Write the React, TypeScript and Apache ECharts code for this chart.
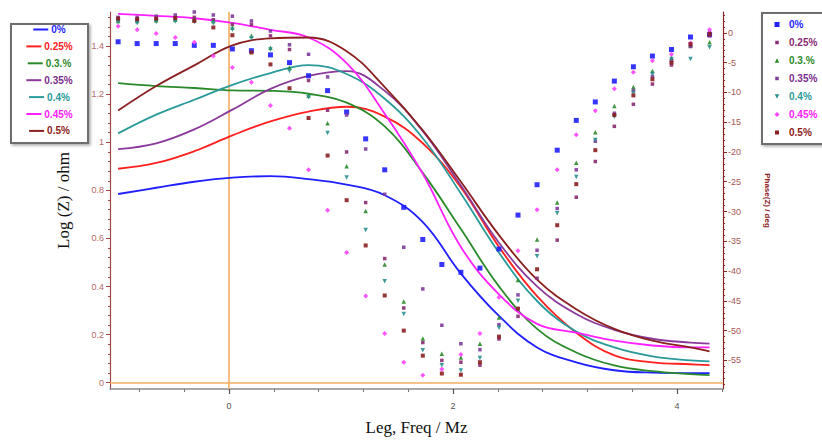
import { useEffect, useRef } from 'react';
import * as echarts from 'echarts';

// Series labels (same order for impedance curves and phase points)
const seriesNames = ['0%', '0.25%', '0.3.%', '0.35%', '0.4%', '0.45%', '0.5%'];
const lineColors = ['#1f1fff', '#ff2020', '#2a8a2a', '#8a3a9a', '#2a9a9a', '#ff20ff', '#8b2020'];
const markerColors = ['#1f1fff', '#8a2a72', '#2a8a2a', '#7f3a9a', '#2a8f8f', '#ff40ff', '#8b1f1f'];
const legendTextColors = ['#1f1fff', '#ff2020', '#2a8a2a', '#7b2d8b', '#2a9a9a', '#ff20ff', '#8b2020'];
const rightLegendTextColors = ['#1f1fff', '#8a2a72', '#2a8a2a', '#7b2d8b', '#2a9a9a', '#ff20ff', '#8b2020'];
const triDown = 'path://M0,0 L10,0 L5,9 Z';
const markerSymbols = ['rect', 'rect', 'triangle', 'rect', triDown, 'diamond', 'rect'];
const markerSizes = [5, 3.5, 4.5, 3.5, 4.5, 5, 4];

// Fitted impedance curves: log10 frequency vs log |Z|
const logFreqFit = [-0.99, -0.65, -0.31, 0.03, 0.37, 0.71, 1.05, 1.39, 1.73, 2.07, 2.41, 2.75, 3.10, 3.44, 3.78, 4.12, 4.29];
const logZ_0 = [0.785, 0.811, 0.836, 0.853, 0.859, 0.847, 0.824, 0.780, 0.668, 0.454, 0.278, 0.147, 0.085, 0.052, 0.042, 0.040, 0.040];
const logZ_025 = [0.890, 0.914, 0.963, 1.029, 1.087, 1.128, 1.148, 1.107, 0.996, 0.812, 0.565, 0.360, 0.208, 0.114, 0.085, 0.077, 0.073];
const logZ_03 = [1.246, 1.234, 1.226, 1.216, 1.214, 1.202, 1.165, 1.066, 0.873, 0.639, 0.401, 0.224, 0.126, 0.072, 0.048, 0.036, 0.032];
const logZ_035 = [0.972, 0.996, 1.054, 1.136, 1.222, 1.276, 1.296, 1.214, 1.046, 0.820, 0.582, 0.401, 0.286, 0.220, 0.183, 0.167, 0.163];
const logZ_04 = [1.037, 1.115, 1.177, 1.239, 1.288, 1.321, 1.284, 1.181, 1.017, 0.787, 0.541, 0.340, 0.213, 0.147, 0.110, 0.093, 0.089];
const logZ_045 = [1.534, 1.526, 1.516, 1.497, 1.468, 1.436, 1.329, 1.119, 0.869, 0.565, 0.368, 0.245, 0.208, 0.175, 0.155, 0.147, 0.147];
const logZ_05 = [1.132, 1.234, 1.320, 1.403, 1.432, 1.436, 1.379, 1.230, 1.050, 0.836, 0.614, 0.429, 0.306, 0.224, 0.175, 0.147, 0.130];

// Measured phase angle (deg) at each frequency point
const logFreqPhase = [-0.99, -0.82, -0.65, -0.48, -0.31, -0.14, 0.03, 0.20, 0.37, 0.54, 0.71, 0.88, 1.05, 1.22, 1.39, 1.56,
  1.73, 1.90, 2.07, 2.24, 2.41, 2.58, 2.75, 2.93, 3.10, 3.27, 3.44, 3.61, 3.78, 3.95, 4.12, 4.29];
const phase_0 = [-1.5, -1.8, -1.8, -1.8, -2.1, -2.1, -2.7, -3.0, -3.7, -5.0, -7.2, -9.7, -13.3, -17.8, -23.0, -29.3,
  -34.7, -38.9, -40.2, -39.5, -36.3, -30.6, -25.5, -19.7, -14.7, -11.6, -8.1, -5.7, -3.9, -2.8, -0.7, -0.3];
const phase_025 = [2.2, 2.1, 2.2, 2.3, 2.6, 2.2, 1.4, 1.4, -0.5, -2.8, -8.0, -13.0, -20.0, -28.5, -37.9, -46.2,
  -52.0, -55.0, -55.3, -55.8, -51.4, -47.6, -41.2, -34.8, -27.6, -21.6, -15.7, -12.0, -8.6, -5.4, -2.3, -0.5];
const phase_03 = [2.0, 2.0, 2.1, 2.2, 2.2, 2.0, 0.9, -0.5, -2.5, -5.8, -10.5, -15.2, -22.4, -29.9, -38.9, -45.1,
  -51.3, -53.9, -54.5, -52.2, -47.8, -41.5, -34.7, -28.5, -21.8, -16.7, -12.3, -9.1, -6.4, -4.2, -2.1, -1.6];
const phase_035 = [2.6, 2.6, 2.8, 3.0, 3.5, 3.0, 2.8, 2.0, 0.3, -2.0, -3.6, -7.4, -13.8, -19.5, -27.1, -36.0,
  -43.0, -49.1, -52.2, -53.2, -49.0, -44.0, -36.5, -29.5, -23.0, -18.2, -13.5, -9.7, -7.3, -4.7, -2.2, 0.0];
const phase_04 = [1.8, 1.6, 1.8, 1.9, 1.8, 1.6, 0.5, -0.9, -2.8, -6.4, -10.8, -16.8, -24.3, -33.1, -41.7, -47.2,
  -53.3, -55.8, -56.7, -54.6, -49.5, -45.0, -37.5, -30.3, -24.2, -18.0, -14.1, -10.1, -6.9, -4.4, -4.4, -2.4];
const phase_045 = [1.1, 0.5, -0.1, -0.8, -1.6, -3.9, -5.8, -8.3, -12.2, -16.0, -23.0, -29.8, -36.9, -44.2, -50.5, -55.3,
  -57.5, -56.5, -54.0, -50.5, -44.4, -36.6, -29.7, -23.0, -17.1, -13.1, -9.4, -6.6, -4.7, -3.6, -1.7, 0.5];
const phase_05 = [2.4, 2.3, 2.4, 2.5, 2.0, 0.9, -0.4, -3.3, -5.3, -9.3, -14.3, -20.6, -28.1, -35.7, -44.1, -50.0,
  -54.2, -57.2, -57.4, -55.3, -51.0, -46.3, -39.7, -32.3, -25.4, -19.7, -13.8, -10.5, -7.8, -5.0, -1.9, -0.2];

const logZSets = [logZ_0, logZ_025, logZ_03, logZ_035, logZ_04, logZ_045, logZ_05];
const phaseSets = [phase_0, phase_025, phase_03, phase_035, phase_04, phase_045, phase_05];

// Axis ticks and labels
const xLabelTicks = [0, 2, 4];
const xMinorTicks = [-0.8, -0.4, 0, 0.4, 0.8, 1.2, 1.6, 2, 2.4, 2.8, 3.2, 3.6, 4, 4.4];
const logZLabelTicks = [0, 0.2, 0.4, 0.6, 0.8, 1, 1.2, 1.4];
const phaseLabelTicks = [0, -5, -10, -15, -20, -25, -30, -35, -40, -45, -50, -55];

const X_MIN = -1.0625;
const X_MAX = 4.41;
const LZ_MIN = -0.026;
const LZ_MAX = 1.542;
const PH_MIN = -59.8;
const PH_MAX = 3.5;

const LEGEND_FONT = 'bold 10px "Liberation Sans", Arial, sans-serif';

function measure(text: string, font: string): number {
  const ctx = document.createElement('canvas').getContext('2d');
  if (!ctx) return text.length * 5.5;
  ctx.font = font;
  return ctx.measureText(text).width;
}

function buildLeftLegend() {
  const children: any[] = [
    {
      type: 'rect',
      shape: { x: 11, y: 24, width: 77, height: 119 },
      style: { fill: '#fff', stroke: '#6e6e6e', lineWidth: 2, shadowBlur: 3, shadowOffsetX: 1.5, shadowOffsetY: 1.5, shadowColor: 'rgba(0,0,0,0.35)' },
    },
  ];
  seriesNames.forEach((name, i) => {
    const cy = 29.5 + i * 16.9;
    const tw = measure(name, LEGEND_FONT);
    const total = 15 + 3 + tw;
    const x0 = 49.5 - total / 2;
    children.push({
      type: 'line',
      shape: { x1: x0, y1: cy, x2: x0 + 15, y2: cy },
      style: { stroke: lineColors[i], lineWidth: 2 },
    });
    children.push({
      type: 'text',
      style: { text: name, x: x0 + 18, y: cy, fill: legendTextColors[i], font: LEGEND_FONT, align: 'left', verticalAlign: 'middle' },
    });
  });
  return { type: 'group', children };
}

function buildRightLegend() {
  const children: any[] = [
    {
      type: 'rect',
      shape: { x: 762, y: 13, width: 90, height: 131 },
      style: { fill: '#fff', stroke: '#6e6e6e', lineWidth: 2, shadowBlur: 3, shadowOffsetX: 1.5, shadowOffsetY: 1.5, shadowColor: 'rgba(0,0,0,0.35)' },
    },
  ];
  seriesNames.forEach((name, i) => {
    const cy = 24.5 + i * 18.0;
    const cx = 777;
    const s = markerSizes[i];
    const c = markerColors[i];
    if (markerSymbols[i] === 'triangle') {
      children.push({ type: 'polygon', shape: { points: [[cx, cy - s / 2], [cx + s / 2, cy + s / 2], [cx - s / 2, cy + s / 2]] }, style: { fill: c } });
    } else if (markerSymbols[i] === triDown) {
      children.push({ type: 'polygon', shape: { points: [[cx - s / 2, cy - s / 2], [cx + s / 2, cy - s / 2], [cx, cy + s / 2]] }, style: { fill: c } });
    } else if (markerSymbols[i] === 'diamond') {
      children.push({ type: 'polygon', shape: { points: [[cx, cy - s / 2], [cx + s / 2, cy], [cx, cy + s / 2], [cx - s / 2, cy]] }, style: { fill: c } });
    } else {
      children.push({ type: 'rect', shape: { x: cx - s / 2, y: cy - s / 2, width: s, height: s }, style: { fill: c } });
    }
    children.push({
      type: 'text',
      style: { text: name, x: 789, y: cy, fill: rightLegendTextColors[i], font: LEGEND_FONT, align: 'left', verticalAlign: 'middle' },
    });
  });
  return { type: 'group', children };
}

function minorTicks(from: number, to: number, step: number): number[] {
  const out: number[] = [];
  const n = Math.round((to - from) / step);
  for (let k = 0; k <= n; k++) out.push(Math.round((from + k * step) * 1000) / 1000);
  return out;
}

export default function App() {
  const ref = useRef<HTMLDivElement>(null);

  useEffect(() => {
    if (!ref.current) return;
    const chart = echarts.init(ref.current, undefined, { renderer: 'svg' });

    const lineSeries = seriesNames.map((name, i) => ({
      name,
      type: 'line',
      xAxisIndex: 0,
      yAxisIndex: 0,
      data: logFreqFit.map((x, j) => [x, logZSets[i][j]]),
      smooth: 0.4,
      symbol: 'none',
      lineStyle: { color: lineColors[i], width: 1.8 },
      z: 3,
      ...(i === 0
        ? {
            markLine: {
              silent: true,
              symbol: 'none',
              label: { show: false },
              lineStyle: { color: '#f6ad5c', width: 1.6, type: 'solid' },
              data: [{ xAxis: 0 }, { yAxis: 0 }],
              z: 1,
            },
          }
        : {}),
    }));

    const scatterSeries = seriesNames.map((name, i) => ({
      name: 'phase ' + name,
      type: 'scatter',
      xAxisIndex: 0,
      yAxisIndex: 1,
      data: logFreqPhase.map((x, j) => [x, phaseSets[i][j]]),
      symbol: markerSymbols[i],
      symbolSize: markerSizes[i],
      itemStyle: { color: markerColors[i], opacity: 0.9 },
      z: 4,
    }));

    const serif = '"Liberation Serif", "Times New Roman", serif';
    const sans = '"Liberation Sans", Arial, sans-serif';

    chart.setOption({
      animation: false,
      backgroundColor: '#ffffff',
      grid: { left: 110, right: 99, top: 12, bottom: 47, containLabel: false },
      xAxis: [
        {
          type: 'value',
          min: X_MIN,
          max: X_MAX,
          position: 'bottom',
          name: 'Leg, Freq / Mz',
          nameLocation: 'middle',
          nameGap: 30,
          nameTextStyle: { fontFamily: serif, fontSize: 17, color: '#111' },
          axisLine: { onZero: false, lineStyle: { color: '#8a8a8a', width: 1.5 } },
          axisTick: { show: true, customValues: xMinorTicks, length: 3, inside: false, lineStyle: { color: '#777' } },
          axisLabel: { show: false },
          splitLine: { show: false },
        },
        {
          type: 'value',
          min: X_MIN,
          max: X_MAX,
          position: 'bottom',
          offset: 0,
          axisLine: { show: false, onZero: false },
          axisTick: { show: true, customValues: xLabelTicks, length: 5, lineStyle: { color: '#555', width: 1.2 } },
          axisLabel: { customValues: xLabelTicks, fontSize: 9, color: '#555', margin: 12, fontFamily: sans },
          splitLine: { show: false },
        },
      ],
      yAxis: [
        {
          type: 'value',
          min: LZ_MIN,
          max: LZ_MAX,
          position: 'left',
          name: 'Log (Z) / ohm',
          nameLocation: 'middle',
          nameGap: 38,
          nameRotate: 90,
          nameTextStyle: { fontFamily: serif, fontSize: 17, color: '#111' },
          axisLine: { show: true, onZero: false, lineStyle: { color: '#a04848', width: 1.2 } },
          axisTick: { show: true, customValues: logZLabelTicks, length: 4, lineStyle: { color: '#a04848' } },
          axisLabel: { customValues: logZLabelTicks, fontSize: 9, color: '#b46a6a', margin: 6, fontFamily: sans },
          splitLine: { show: false },
        },
        {
          type: 'value',
          min: PH_MIN,
          max: PH_MAX,
          position: 'right',
          name: 'Phase(Z) / deg',
          nameLocation: 'middle',
          nameGap: 40,
          nameRotate: -90,
          nameTextStyle: { fontFamily: sans, fontSize: 8, fontWeight: 'bold', color: '#8b2020' },
          axisLine: { show: true, onZero: false, lineStyle: { color: '#8b2525', width: 1.2 } },
          axisTick: { show: true, customValues: phaseLabelTicks, length: 4, lineStyle: { color: '#8b2525' } },
          axisLabel: { customValues: phaseLabelTicks, fontSize: 9, color: '#a85656', margin: 5, fontFamily: sans },
          splitLine: { show: false },
        },
        {
          type: 'value',
          min: LZ_MIN,
          max: LZ_MAX,
          position: 'left',
          axisLine: { show: false, onZero: false },
          axisTick: { show: true, customValues: minorTicks(0, 1.52, 0.04), length: 2, lineStyle: { color: '#a04848' } },
          axisLabel: { show: false },
          splitLine: { show: false },
        },
        {
          type: 'value',
          min: PH_MIN,
          max: PH_MAX,
          position: 'right',
          axisLine: { show: false, onZero: false },
          axisTick: { show: true, customValues: minorTicks(-59, 3, 1), length: 2, lineStyle: { color: '#8b2525' } },
          axisLabel: { show: false },
          splitLine: { show: false },
        },
      ],
      graphic: [buildLeftLegend(), buildRightLegend()],
      series: [...scatterSeries, ...lineSeries],
    });

    return () => chart.dispose();
  }, []);

  return (
    <div
      ref={ref}
      style={{ position: 'fixed', left: 0, top: 0, width: 822, height: 441, background: '#fff' }}
    />
  );
}
